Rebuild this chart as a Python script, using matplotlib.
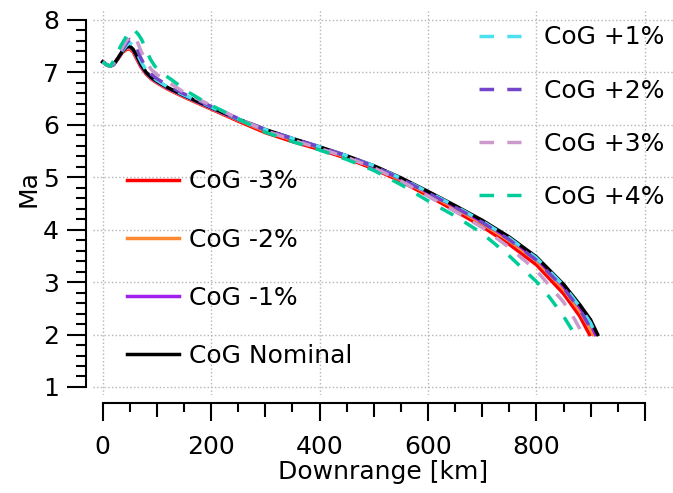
import matplotlib
matplotlib.use("Agg")
import matplotlib.pyplot as plt
from matplotlib.ticker import FixedLocator, NullFormatter

plt.rcParams['font.family'] = ['DejaVu Sans']
plt.rcParams['font.size'] = 18

# downrange [km] shared by most runs, then each run's own tail
km_common = [0, 8, 14, 20, 28, 36, 44, 50, 56, 62, 70, 80, 90, 100, 120, 150,
             200, 250, 300, 350, 400, 450, 500, 550, 600, 650, 700, 750, 800, 850]

ma_nom = [7.20, 7.14, 7.12, 7.15, 7.27, 7.40, 7.49, 7.50, 7.44, 7.33,
          7.16, 7.00, 6.90, 6.83, 6.71, 6.56, 6.33, 6.11, 5.91, 5.74,
          5.58, 5.41, 5.22, 4.99, 4.73, 4.46, 4.18, 3.86, 3.48, 2.96]
km_nom_tail = [880, 900, 913]
ma_nom_tail = [2.57, 2.28, 2.00]

ma_m1 = [7.20, 7.14, 7.12, 7.15, 7.27, 7.40, 7.48, 7.49, 7.43, 7.31,
         7.14, 6.99, 6.89, 6.82, 6.70, 6.55, 6.32, 6.10, 5.90, 5.73,
         5.57, 5.40, 5.20, 4.97, 4.71, 4.44, 4.15, 3.83, 3.45, 2.92]
km_m1_tail = [880, 900, 909]
ma_m1_tail = [2.52, 2.21, 2.00]

ma_m2 = [7.20, 7.14, 7.12, 7.15, 7.26, 7.39, 7.46, 7.47, 7.41, 7.29,
         7.13, 6.98, 6.88, 6.81, 6.69, 6.54, 6.31, 6.09, 5.88, 5.71,
         5.56, 5.38, 5.19, 4.95, 4.69, 4.41, 4.12, 3.79, 3.41, 2.87]
km_m2_tail = [880, 895, 905]
ma_m2_tail = [2.45, 2.19, 2.00]

ma_m3 = [7.20, 7.14, 7.12, 7.15, 7.26, 7.38, 7.44, 7.45, 7.39, 7.27,
         7.11, 6.97, 6.87, 6.80, 6.68, 6.53, 6.30, 6.07, 5.85, 5.68,
         5.53, 5.36, 5.16, 4.92, 4.65, 4.36, 4.06, 3.72, 3.33, 2.78]
km_m3_tail = [880, 898]
ma_m3_tail = [2.35, 2.00]

ma_p1 = [7.20, 7.14, 7.12, 7.15, 7.28, 7.41, 7.52, 7.56, 7.52, 7.40,
         7.22, 7.04, 6.93, 6.85, 6.72, 6.57, 6.34, 6.11, 5.91, 5.74,
         5.58, 5.41, 5.22, 4.98, 4.72, 4.45, 4.16, 3.84, 3.46, 2.94]
km_p1_tail = [880, 900, 909]
ma_p1_tail = [2.53, 2.22, 2.00]

ma_p2 = [7.20, 7.14, 7.12, 7.16, 7.29, 7.43, 7.56, 7.63, 7.61, 7.48,
         7.28, 7.08, 6.96, 6.88, 6.75, 6.59, 6.35, 6.12, 5.91, 5.74,
         5.58, 5.41, 5.21, 4.97, 4.70, 4.43, 4.14, 3.81, 3.42, 2.89]
km_p2_tail = [880, 895, 905]
ma_p2_tail = [2.48, 2.21, 2.00]

ma_p3 = [7.20, 7.14, 7.12, 7.18, 7.32, 7.47, 7.61, 7.69, 7.71, 7.63,
         7.42, 7.20, 7.05, 6.96, 6.82, 6.62, 6.37, 6.12, 5.89, 5.71,
         5.55, 5.38, 5.18, 4.93, 4.64, 4.35, 4.04, 3.66, 3.22, 2.62]
km_p3_tail = [870, 886]
ma_p3_tail = [2.30, 2.00]

km_p4 = [0, 8, 14, 20, 26, 34, 42, 48, 54, 60, 66, 72, 80, 88, 96, 110, 127,
         157, 191, 220, 250, 300, 350, 400, 450, 500, 550, 600, 650, 700,
         750, 800, 825, 850, 871]
ma_p4 = [7.20, 7.14, 7.12, 7.22, 7.36, 7.52, 7.66, 7.76, 7.82, 7.79,
         7.72, 7.62, 7.43, 7.25, 7.12, 6.98, 6.86, 6.63, 6.42, 6.27,
         6.11, 5.86, 5.68, 5.52, 5.34, 5.13, 4.86, 4.55, 4.26, 3.93,
         3.50, 3.01, 2.70, 2.35, 2.00]

fig = plt.figure(figsize=(6.73, 4.93), dpi=100)
ax = fig.add_axes([0.1382, 0.1988, 0.8618, 0.783])

lw = 2.5
dash = (4.2, 3.8)

h_m3, = ax.plot(km_common + km_m3_tail, ma_m3 + ma_m3_tail, color='#ff0000', lw=lw, label='CoG -3%')
h_m2, = ax.plot(km_common + km_m2_tail, ma_m2 + ma_m2_tail, color='#ff8833', lw=lw, label='CoG -2%')
h_m1, = ax.plot(km_common + km_m1_tail, ma_m1 + ma_m1_tail, color='#a020f0', lw=lw, label='CoG -1%')
h_nom, = ax.plot(km_common + km_nom_tail, ma_nom + ma_nom_tail, color='black', lw=lw, label='CoG Nominal')
h_p1, = ax.plot(km_common + km_p1_tail, ma_p1 + ma_p1_tail, color='#4de1ef', lw=lw, dashes=dash, label='CoG +1%')
h_p2, = ax.plot(km_common + km_p2_tail, ma_p2 + ma_p2_tail, color='#7346c9', lw=lw, dashes=dash, label='CoG +2%')
h_p3, = ax.plot(km_common + km_p3_tail, ma_p3 + ma_p3_tail, color='#cc99cc', lw=lw, dashes=dash, label='CoG +3%')
h_p4, = ax.plot(km_p4, ma_p4, color='#00cc99', lw=lw, dashes=dash, label='CoG +4%')

ax.set_xlim(-18, 1052)
ax.set_ylim(0.847, 8.21)

for s in ['top', 'right']:
    ax.spines[s].set_visible(False)
ax.spines['left'].set_position(('outward', 5.0))
ax.spines['bottom'].set_position(('outward', 5.8))
ax.spines['left'].set_bounds(1, 8)
ax.spines['bottom'].set_bounds(0, 1000)
ax.spines['left'].set_linewidth(1.5)
ax.spines['bottom'].set_linewidth(1.5)

ax.set_yticks(range(1, 9))
ax.yaxis.set_minor_locator(FixedLocator([1 + 0.2 * i for i in range(36) if i % 5]))
ax.set_xticks([0, 200, 400, 600, 800, 1000], ['0', '200', '400', '600', '800', ''])
ax.xaxis.set_minor_locator(FixedLocator([50 + 100 * i for i in range(10)]))
ax.tick_params(axis='y', which='major', length=13.5, width=1.5, pad=6)
ax.tick_params(axis='y', which='minor', length=7, width=1.5)
ax.tick_params(axis='x', which='major', length=13, width=1.5, pad=10)
ax.tick_params(axis='x', which='minor', length=6.5, width=1.5)

# medium ticks every 100 km
sec = ax.secondary_xaxis('bottom')
sec.spines['bottom'].set_position(('outward', 5.8))
sec.spines['bottom'].set_visible(False)
sec.set_xticks([100, 300, 500, 700, 900])
sec.xaxis.set_major_formatter(NullFormatter())
sec.tick_params(axis='x', which='major', length=10, width=1.5)
sec.xaxis.set_minor_locator(FixedLocator([]))

ax.grid(True, which='major', linestyle=':', color='#b4b4b4', lw=1.0)

ax.set_xlabel('Downrange [km]', labelpad=1)
ax.set_ylabel('Ma')
ax.yaxis.set_label_coords(-0.09, 0.536)

leg1 = ax.legend(handles=[h_m3, h_m2, h_m1, h_nom], loc='upper left',
                 bbox_to_anchor=(0.1887, 0.6562), bbox_transform=fig.transFigure,
                 frameon=False, borderpad=0, borderaxespad=0,
                 handlelength=2.1, handletextpad=0.4, labelspacing=1.37)
ax.add_artist(leg1)
ax.legend(handles=[h_p1, h_p2, h_p3, h_p4], loc='upper left',
          bbox_to_anchor=(0.7117, 0.9483), bbox_transform=fig.transFigure,
          frameon=False, borderpad=0, borderaxespad=0,
          handlelength=1.68, handletextpad=0.92, labelspacing=1.17)

fig.savefig('out.png', dpi=100)
